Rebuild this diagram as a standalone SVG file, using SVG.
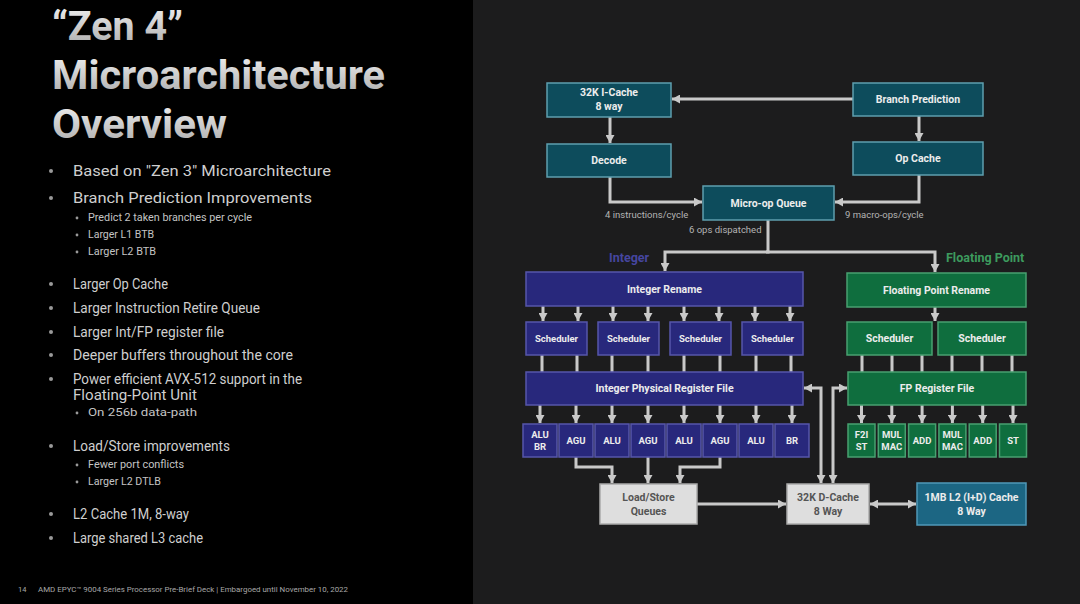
<svg xmlns="http://www.w3.org/2000/svg" width="1080" height="604" viewBox="0 0 1080 604">
<defs>
<linearGradient id="tg" x1="0" y1="0" x2="0" y2="1"><stop offset="0" stop-color="#f4f4f4"/><stop offset="1" stop-color="#a8a8a8"/></linearGradient>
<marker id="ah" viewBox="0 0 8 9" refX="8" refY="4.5" markerWidth="8" markerHeight="9" markerUnits="userSpaceOnUse" orient="auto-start-reverse"><path d="M0,0 L8,4.5 L0,9 z" fill="#c9c9c9"/></marker>
</defs>
<style>
.title{font-family:Roboto,"Liberation Sans",sans-serif;font-weight:700;font-size:41px;fill:url(#tg)}
.b1{font-family:Roboto,"Liberation Sans",sans-serif;font-size:15.5px;fill:#cfcfcf}
.b2{font-family:Roboto,"Liberation Sans",sans-serif;font-size:10.5px;fill:#c4c4c4}
.dot1{fill:#9a9a9a}
.foot{font-family:Roboto,"Liberation Sans",sans-serif;font-size:7.5px;fill:#a8a8a8}
.bx{stroke-width:1.5}
.teal{fill:#0d4c5c;stroke:#5e9eae}
.int{fill:#28287c;stroke:#5656aa}
.fp{fill:#0f6e3e;stroke:#48a070}
.l2{fill:#1c6683;stroke:#4f98b8}
.gray{fill:#dedede;stroke:#ababab}
.t{font-family:Roboto,"Liberation Sans",sans-serif;font-weight:700;font-size:10.5px;fill:#ececec;text-anchor:middle}
.td{font-family:Roboto,"Liberation Sans",sans-serif;font-weight:700;font-size:10.5px;fill:#555;text-anchor:middle}
.ts{font-family:Roboto,"Liberation Sans",sans-serif;font-weight:700;font-size:9.5px;fill:#ececec;text-anchor:middle}
.lbl{font-family:Roboto,"Liberation Sans",sans-serif;font-size:9.5px;fill:#b4b4b4}
.grp{font-family:Roboto,"Liberation Sans",sans-serif;font-weight:700;font-size:12.5px}
.ln{fill:none;stroke:#c9c9c9;stroke-width:3}
.ar{marker-end:url(#ah)}
.ar2{marker-start:url(#ah);marker-end:url(#ah)}
</style>
<rect x="0" y="0" width="1080" height="604" fill="#000"/>
<rect x="473" y="0" width="607" height="604" fill="#1c1c1d"/>

<g id="title">
<text class="title" x="52" y="40" textLength="131" lengthAdjust="spacingAndGlyphs">“Zen 4”</text>
<text class="title" x="52" y="89" textLength="333" lengthAdjust="spacingAndGlyphs">Microarchitecture</text>
<text class="title" x="52" y="138" textLength="175" lengthAdjust="spacingAndGlyphs">Overview</text>
</g>

<g id="bullets">
<circle class="dot1" cx="51" cy="171" r="2"/><text class="b1" x="73" y="176" textLength="258" lengthAdjust="spacingAndGlyphs">Based on "Zen 3" Microarchitecture</text>
<circle class="dot1" cx="51" cy="198" r="2"/><text class="b1" x="73" y="203" textLength="239" lengthAdjust="spacingAndGlyphs">Branch Prediction Improvements</text>
<circle class="dot1" cx="77" cy="218" r="1.4"/><text class="b2" x="88" y="221" textLength="164" lengthAdjust="spacingAndGlyphs">Predict 2 taken branches per cycle</text>
<circle class="dot1" cx="77" cy="235" r="1.4"/><text class="b2" x="88" y="238" textLength="66" lengthAdjust="spacingAndGlyphs">Larger L1 BTB</text>
<circle class="dot1" cx="77" cy="252" r="1.4"/><text class="b2" x="88" y="255" textLength="68" lengthAdjust="spacingAndGlyphs">Larger L2 BTB</text>
<circle class="dot1" cx="51" cy="284" r="2"/><text class="b1" x="73" y="289" textLength="95" lengthAdjust="spacingAndGlyphs">Larger Op Cache</text>
<circle class="dot1" cx="51" cy="308" r="2"/><text class="b1" x="73" y="313" textLength="187" lengthAdjust="spacingAndGlyphs">Larger Instruction Retire Queue</text>
<circle class="dot1" cx="51" cy="332" r="2"/><text class="b1" x="73" y="337" textLength="151" lengthAdjust="spacingAndGlyphs">Larger Int/FP register file</text>
<circle class="dot1" cx="51" cy="355" r="2"/><text class="b1" x="73" y="360" textLength="220" lengthAdjust="spacingAndGlyphs">Deeper buffers throughout the core</text>
<circle class="dot1" cx="51" cy="379" r="2"/><text class="b1" x="73" y="384" textLength="229" lengthAdjust="spacingAndGlyphs">Power efficient AVX-512 support in the</text>
<text class="b1" x="73" y="400" textLength="124" lengthAdjust="spacingAndGlyphs">Floating-Point Unit</text>
<circle class="dot1" cx="77" cy="413" r="1.4"/><text class="b2" x="88" y="416" textLength="109" lengthAdjust="spacingAndGlyphs">On 256b data-path</text>
<circle class="dot1" cx="51" cy="446" r="2"/><text class="b1" x="73" y="451" textLength="157" lengthAdjust="spacingAndGlyphs">Load/Store improvements</text>
<circle class="dot1" cx="77" cy="465" r="1.4"/><text class="b2" x="88" y="468" textLength="96" lengthAdjust="spacingAndGlyphs">Fewer port conflicts</text>
<circle class="dot1" cx="77" cy="482" r="1.4"/><text class="b2" x="88" y="485" textLength="73" lengthAdjust="spacingAndGlyphs">Larger L2 DTLB</text>
<circle class="dot1" cx="51" cy="514" r="2"/><text class="b1" x="73" y="519" textLength="116" lengthAdjust="spacingAndGlyphs">L2 Cache 1M, 8-way</text>
<circle class="dot1" cx="51" cy="538" r="2"/><text class="b1" x="73" y="543" textLength="130" lengthAdjust="spacingAndGlyphs">Large shared L3 cache</text>
</g>

<g id="footer">
<text class="foot" x="18" y="592">14</text>
<text class="foot" x="38" y="592" textLength="310" lengthAdjust="spacingAndGlyphs">AMD EPYC™ 9004 Series Processor Pre-Brief Deck  |  Embargoed until November 10, 2022</text>
</g>

<g id="connectors">
<path class="ln ar" d="M853,99 H672"/>
<path class="ln ar" d="M610,117 V143"/>
<path class="ln ar" d="M919,116 V141"/>
<path class="ln ar" d="M610,177 V202 H702"/>
<path class="ln ar" d="M919,175 V202 H835"/>
<path class="ln ar" d="M768,220 V252 H665 V271"/>
<path class="ln ar" d="M766,252 H935 V272"/>
<path class="ln ar" d="M543,306 V321"/><path class="ln ar" d="M578,306 V321"/>
<path class="ln ar" d="M613,306 V321"/><path class="ln ar" d="M648,306 V321"/>
<path class="ln ar" d="M684,306 V321"/><path class="ln ar" d="M719,306 V321"/>
<path class="ln ar" d="M755,306 V321"/><path class="ln ar" d="M790,306 V321"/>
<path class="ln" d="M542,355 V372 M577,355 V372 M612,355 V372 M648,355 V372 M684,355 V372 M720,355 V372 M756,355 V372 M791,355 V372"/>
<path class="ln ar" d="M540,405 V423"/><path class="ln ar" d="M576,405 V423"/>
<path class="ln ar" d="M612,405 V423"/><path class="ln ar" d="M648,405 V423"/>
<path class="ln ar" d="M684,405 V423"/><path class="ln ar" d="M720,405 V423"/>
<path class="ln ar" d="M756,405 V423"/><path class="ln ar" d="M792,405 V423"/>
<path class="ln ar" d="M576,457 V467 H612 V483"/>
<path class="ln ar" d="M648,457 V483"/>
<path class="ln ar" d="M720,457 V467 H680 V483"/>
<path class="ln ar" d="M697,504 H786"/>
<path class="ln ar2" d="M870,504 H916"/>
<path class="ln ar2" d="M821,483 V388 H804"/>
<path class="ln ar2" d="M833,483 V388 H847"/>
<path class="ln ar" d="M935,307 V321"/>
<path class="ln" d="M862,355 V372 M892,355 V372 M922,355 V372 M952,355 V372 M982,355 V372 M1012,355 V372"/>
<path class="ln ar" d="M861.5,405 V423"/><path class="ln ar" d="M891.8,405 V423"/>
<path class="ln ar" d="M922.1,405 V423"/><path class="ln ar" d="M952.4,405 V423"/>
<path class="ln ar" d="M982.7,405 V423"/><path class="ln ar" d="M1013,405 V423"/>
</g>

<g id="labels">
<text class="lbl" x="605" y="218">4 instructions/cycle</text>
<text class="lbl" x="845" y="218">9 macro-ops/cycle</text>
<text class="lbl" x="689" y="233">6 ops dispatched</text>
<text class="grp" x="609" y="262" fill="#4646a0">Integer</text>
<text class="grp" x="946" y="262" fill="#3d9b5e">Floating Point</text>
</g>

<g id="icache"><rect class="bx teal" x="547" y="83" width="124" height="34"/><text class="t" x="609" y="96">32K I-Cache</text><text class="t" x="609" y="110">8 way</text></g>
<g id="branch-prediction"><rect class="bx teal" x="853" y="83" width="130" height="33"/><text class="t" x="918" y="103">Branch Prediction</text></g>
<g id="decode"><rect class="bx teal" x="547" y="144" width="124" height="33"/><text class="t" x="609" y="164">Decode</text></g>
<g id="op-cache"><rect class="bx teal" x="853" y="142" width="130" height="33"/><text class="t" x="918" y="162">Op Cache</text></g>
<g id="micro-op-queue"><rect class="bx teal" x="703" y="186" width="131" height="34"/><text class="t" x="768.5" y="207">Micro-op Queue</text></g>

<g id="integer-rename"><rect class="bx int" x="526" y="272" width="277" height="34"/><text class="t" x="664.5" y="293">Integer Rename</text></g>
<g id="int-sched-1"><rect class="bx int" x="526" y="322" width="61" height="33"/><text class="ts" x="556.5" y="342">Scheduler</text></g>
<g id="int-sched-2"><rect class="bx int" x="598" y="322" width="61" height="33"/><text class="ts" x="628.5" y="342">Scheduler</text></g>
<g id="int-sched-3"><rect class="bx int" x="670" y="322" width="61" height="33"/><text class="ts" x="700.5" y="342">Scheduler</text></g>
<g id="int-sched-4"><rect class="bx int" x="742" y="322" width="61" height="33"/><text class="ts" x="772.5" y="342">Scheduler</text></g>
<g id="int-prf"><rect class="bx int" x="526" y="372" width="277" height="33"/><text class="t" x="664.5" y="392">Integer Physical Register File</text></g>
<g id="int-alu-br"><rect class="bx int" x="523" y="424" width="34" height="33"/><text class="ts" x="540" y="438">ALU</text><text class="ts" x="540" y="450">BR</text></g>
<g id="int-agu-1"><rect class="bx int" x="559" y="424" width="34" height="33"/><text class="ts" x="576" y="444">AGU</text></g>
<g id="int-alu-1"><rect class="bx int" x="595" y="424" width="34" height="33"/><text class="ts" x="612" y="444">ALU</text></g>
<g id="int-agu-2"><rect class="bx int" x="631" y="424" width="34" height="33"/><text class="ts" x="648" y="444">AGU</text></g>
<g id="int-alu-2"><rect class="bx int" x="667" y="424" width="34" height="33"/><text class="ts" x="684" y="444">ALU</text></g>
<g id="int-agu-3"><rect class="bx int" x="703" y="424" width="34" height="33"/><text class="ts" x="720" y="444">AGU</text></g>
<g id="int-alu-3"><rect class="bx int" x="739" y="424" width="34" height="33"/><text class="ts" x="756" y="444">ALU</text></g>
<g id="int-br"><rect class="bx int" x="775" y="424" width="34" height="33"/><text class="ts" x="792" y="444">BR</text></g>

<g id="fp-rename"><rect class="bx fp" x="847" y="273" width="179" height="34"/><text class="t" x="936.5" y="294">Floating Point Rename</text></g>
<g id="fp-sched-1"><rect class="bx fp" x="847" y="322" width="85" height="33"/><text class="t" x="889.5" y="342">Scheduler</text></g>
<g id="fp-sched-2"><rect class="bx fp" x="938" y="322" width="88" height="33"/><text class="t" x="982" y="342">Scheduler</text></g>
<g id="fp-rf"><rect class="bx fp" x="848" y="372" width="178" height="33"/><text class="t" x="937" y="392">FP Register File</text></g>
<g id="fp-f2i-st"><rect class="bx fp" x="848" y="424" width="27" height="33"/><text class="ts" x="861.5" y="438">F2I</text><text class="ts" x="861.5" y="450">ST</text></g>
<g id="fp-mul-1"><rect class="bx fp" x="878.3" y="424" width="27" height="33"/><text class="ts" x="891.8" y="438">MUL</text><text class="ts" x="891.8" y="450">MAC</text></g>
<g id="fp-add-1"><rect class="bx fp" x="908.6" y="424" width="27" height="33"/><text class="ts" x="922.1" y="444">ADD</text></g>
<g id="fp-mul-2"><rect class="bx fp" x="938.9" y="424" width="27" height="33"/><text class="ts" x="952.4" y="438">MUL</text><text class="ts" x="952.4" y="450">MAC</text></g>
<g id="fp-add-2"><rect class="bx fp" x="969.2" y="424" width="27" height="33"/><text class="ts" x="982.7" y="444">ADD</text></g>
<g id="fp-st"><rect class="bx fp" x="999.5" y="424" width="27" height="33"/><text class="ts" x="1013" y="444">ST</text></g>

<g id="load-store"><rect class="bx gray" x="600" y="484" width="97" height="40"/><text class="td" x="648.5" y="501">Load/Store</text><text class="td" x="648.5" y="515">Queues</text></g>
<g id="d-cache"><rect class="bx gray" x="787" y="484" width="82" height="40"/><text class="td" x="828" y="501">32K D-Cache</text><text class="td" x="828" y="515">8 Way</text></g>
<g id="l2-cache"><rect class="bx l2" x="917" y="483" width="109" height="42"/><text class="t" x="971.5" y="501">1MB L2 (I+D) Cache</text><text class="t" x="971.5" y="515">8 Way</text></g>
</svg>
